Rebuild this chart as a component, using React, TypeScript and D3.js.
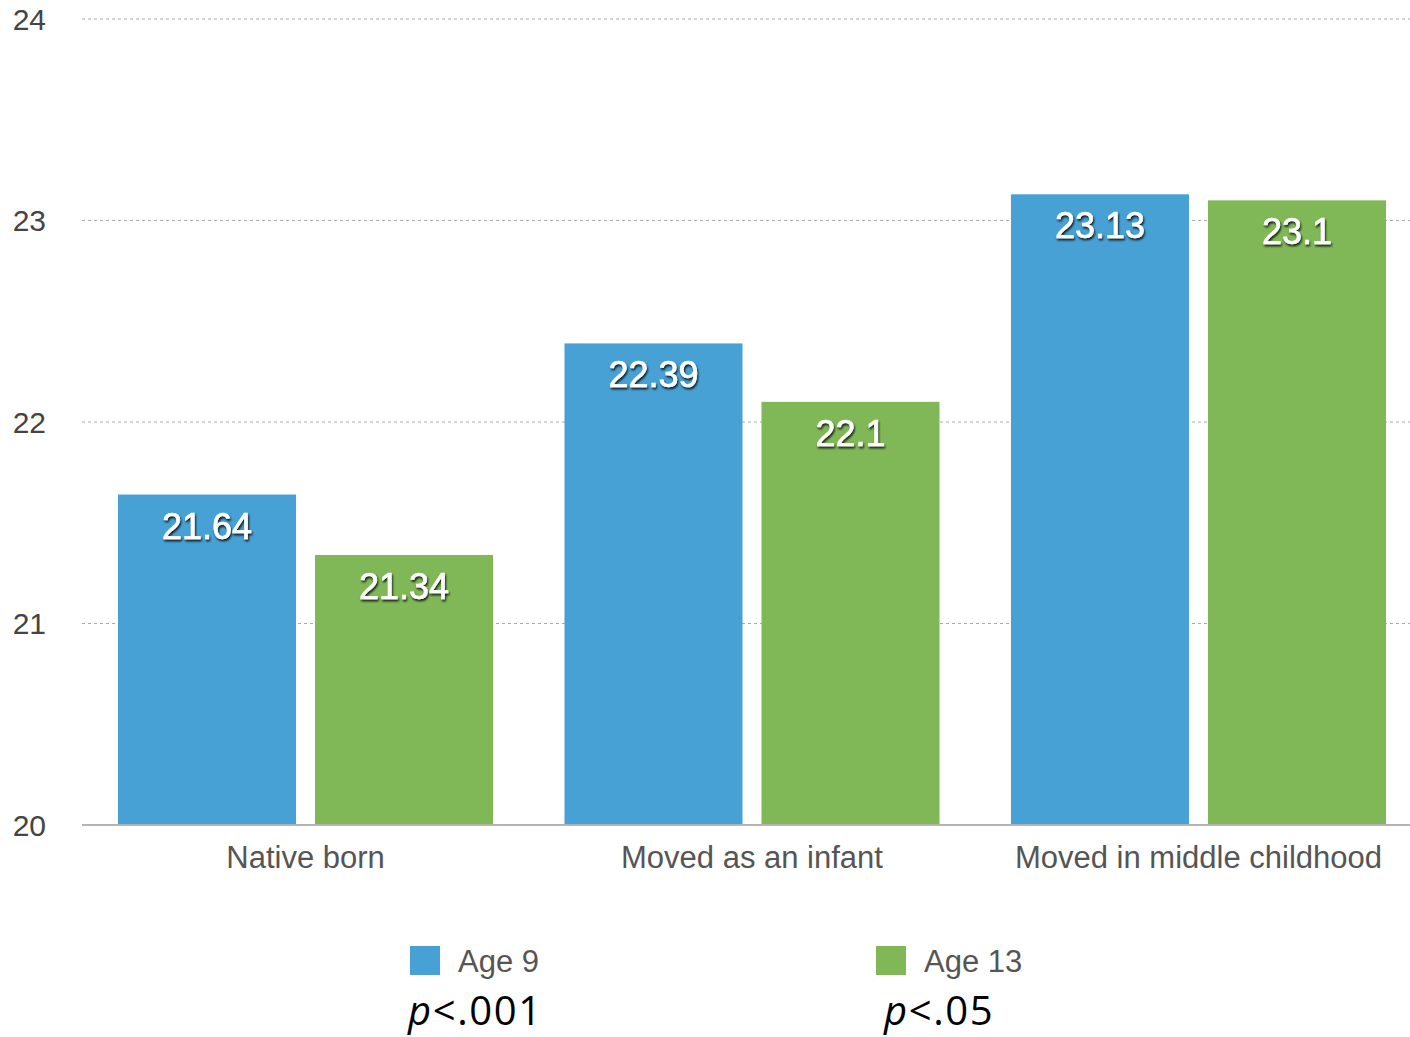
import React from "react";
import * as d3 from "d3";

const categories = ["Native born", "Moved as an infant", "Moved in middle childhood"];
const seriesNames = ["Age 9", "Age 13"];
const age9 = [21.64, 22.39, 23.13];
const age13 = [21.34, 22.1, 23.1];
const yTicks = [20, 21, 22, 23, 24];
const pValues = ["<.001", "<.05"];

const colors = ["#47A1D4", "#80B857"];
const W = 1410;
const H = 1037;

export default function App() {
  const left = 82;
  const right = 1410;
  const y = d3.scaleLinear().domain([20, 24]).range([825, 19]);
  const x0 = d3
    .scaleBand<string>()
    .domain(categories)
    .range([left, right])
    .paddingInner(0.16)
    .paddingOuter(0.0672)
    .align(0.6);
  const x1 = d3.scaleBand<string>().domain(seriesNames).range([0, x0.bandwidth()]).paddingInner(0.0964);
  const series = [age9, age13];
  const font = "'Liberation Sans', Arial, Helvetica, sans-serif";

  return (
    <svg width={W} height={H} style={{ position: "absolute", left: 0, top: 0, background: "#fff" }}>
      <defs>
        <filter id="lblShadow" x="-20%" y="-30%" width="140%" height="170%">
          <feDropShadow dx="1" dy="2" stdDeviation="1" floodColor="#000" floodOpacity="0.85" />
        </filter>
      </defs>
      {yTicks.map((t) => (
        <g key={t}>
          {t !== 20 && (
            <line x1={left} x2={right} y1={y(t)} y2={y(t)} stroke="#aaa" strokeWidth={1} strokeDasharray="3,3" />
          )}
          <text x={46} y={y(t)} dy="0.36em" textAnchor="end" fontFamily={font} fontSize={30} fill="#444">
            {t}
          </text>
        </g>
      ))}
      {categories.map((c, ci) => (
        <g key={c} transform={`translate(${x0(c)},0)`}>
          {seriesNames.map((s, si) => {
            const v = series[si][ci];
            const bx = x1(s)!;
            const bw = x1.bandwidth();
            return (
              <g key={s}>
                <rect x={bx} y={y(v)} width={bw} height={y(20) - y(v)} fill={colors[si]} />
                <text
                  x={bx + bw / 2}
                  y={y(v) + 44}
                  textAnchor="middle"
                  fontFamily={font}
                  fontSize={36}
                  fill="#fff"
                  stroke="#fff"
                  strokeWidth={0.6}
                  filter="url(#lblShadow)"
                >
                  {v}
                </text>
              </g>
            );
          })}
          <text
            x={x0.bandwidth() / 2}
            y={868}
            textAnchor="middle"
            fontFamily={font}
            fontSize={31}
            fill="#555"
          >
            {c}
          </text>
        </g>
      ))}
      <line x1={left} x2={right} y1={y(20)} y2={y(20)} stroke="#b3b3b3" strokeWidth={2} />
      {seriesNames.map((s, si) => {
        const lx = [410, 876][si];
        const px = [408, 884][si];
        return (
          <g key={s}>
            <rect x={lx} y={946} width={30} height={29} fill={colors[si]} />
            <text x={lx + 48} y={972} fontFamily={font} fontSize={31} fill="#555">
              {s}
            </text>
            <text
              x={px}
              y={1025}
              fontFamily="'Open Sans', Carlito, Calibri, sans-serif"
              fontSize={40}
              letterSpacing={1.6}
              fill="#000"
            >
              <tspan fontStyle="italic">p</tspan>
              {pValues[si]}
            </text>
          </g>
        );
      })}
    </svg>
  );
}
